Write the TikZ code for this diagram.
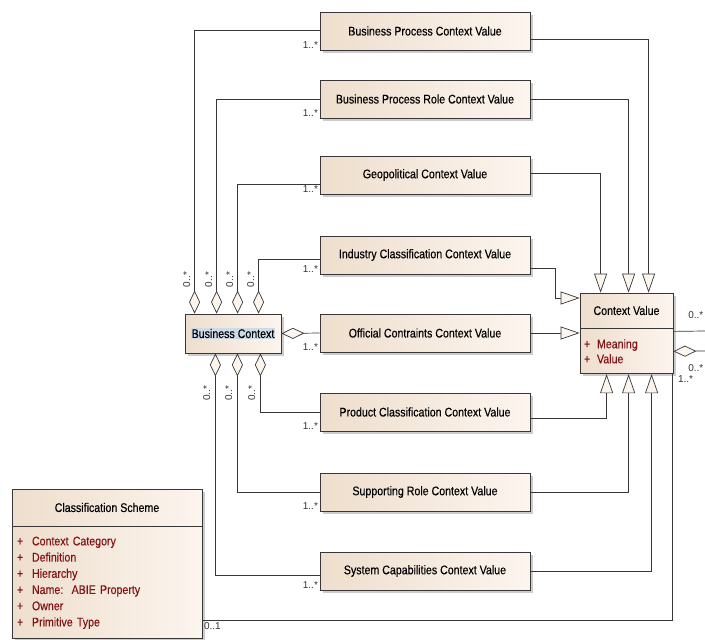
\documentclass[tikz,border=0pt]{standalone}
\usepackage{fontspec}
\setmainfont{Liberation Sans}
\newfontfamily\umlfont[FakeStretch=0.85, FakeBold=0.3]{Liberation Sans}
\usetikzlibrary{arrows.meta,positioning,calc,shadows}

\definecolor{boxL}{RGB}{238,222,205}
\definecolor{boxR}{RGB}{252,245,238}
\definecolor{edge}{RGB}{55,55,55}
\definecolor{attr}{RGB}{128,20,20}
\definecolor{sel}{RGB}{205,218,232}

\tikzset{
  cls/.style={draw=edge, line width=0.8pt, left color=boxL, right color=boxR,
    drop shadow={shadow xshift=2.5pt, shadow yshift=-2.5pt, opacity=0.4},
    font=\umlfont\fontsize{12.5}{13}\selectfont, inner sep=2pt},
  valbox/.style={cls, minimum width=210pt, minimum height=38pt},
  link/.style={draw=edge, line width=0.7pt},
  aggr/.style={link, {Diamond[length=23pt, width=11pt, fill=boxR]}-},
  gen/.style={link, -{Triangle[length=19pt, width=13pt, fill=boxR]}},
  mult/.style={font=\fontsize{10}{10}\selectfont, text=black!80, inner sep=1.5pt},
}

\begin{document}
\begin{tikzpicture}[x=1pt, y=-1pt]
\useasboundingbox (0,0) rectangle (705,640);

% context value kinds
\node[valbox] (bpcv) at (425,31) {Business Process Context Value};
\node[valbox] (bprcv) at (425,99) {Business Process Role Context Value};
\node[valbox] (geo) at (425,175) {Geopolitical Context Value};
\node[valbox] (ind) at (425,255) {Industry Classification Context Value};
\node[valbox] (off) at (425,333) {Official Contraints Context Value};
\node[valbox] (prod) at (425,412) {Product Classification Context Value};
\node[valbox] (supp) at (425,492) {Supporting Role Context Value};
\node[valbox] (sys) at (425,571) {System Capabilities Context Value};

\node[cls, minimum width=96pt, minimum height=39pt] (bc) at (233,333.5) {\fboxsep=1pt\colorbox{sel}{Business Context}};

\node[cls, minimum width=93pt, minimum height=35pt] (cv) at (626.5,310.5) {Context Value};
\node[cls, minimum width=93pt, minimum height=45pt, below=0pt of cv, align=left, text=attr,
  text width=85pt, inner xsep=4pt, font=\umlfont\fontsize{12.5}{15}\selectfont] (cvattr)
  {\makebox[13pt][l]{+}Meaning\\\makebox[13pt][l]{+}Value};

\node[cls, minimum width=190pt, minimum height=37pt] (cs) at (107,507.5) {Classification Scheme};
\node[cls, minimum width=190pt, minimum height=112pt, below=0pt of cs, align=left, text=attr,
  text width=180pt, inner xsep=5pt, font=\umlfont\fontsize{12.5}{16.2}\selectfont] (csattr)
  {\makebox[15pt][l]{+}Context Category\\
   \makebox[15pt][l]{+}Definition\\
   \makebox[15pt][l]{+}Hierarchy\\
   \makebox[15pt][l]{+}Name:\ \ ABIE Property\\
   \makebox[15pt][l]{+}Owner\\
   \makebox[15pt][l]{+}Primitive Type};

% aggregations
\draw[aggr] ([xshift=10pt]bc.north west) |- ([yshift=1pt]bpcv.west);
\draw[aggr] ([xshift=32pt]bc.north west) |- (bprcv.west);
\draw[aggr] ([xshift=53pt]bc.north west) |- ([yshift=-9pt]geo.west);
\draw[aggr] ([xshift=74pt]bc.north west) |- ([yshift=-4pt]ind.west);
\draw[aggr] (bc.east) -- (off.west);
\draw[aggr] ([xshift=-21pt]bc.south east) |- (prod.west);
\draw[aggr] ([xshift=-44pt]bc.south east) |- (supp.west);
\draw[aggr] ([xshift=-66pt]bc.south east) |- ([yshift=-4pt]sys.west);

\foreach \dx in {2,24,45,66}
  \node[mult, rotate=90] (mt\dx) at ([xshift=\dx pt, yshift=34pt]bc.north west) {0..*};
\foreach \dx in {22,44,67}
  \node[mult, rotate=90] (mb\dx) at ([xshift=\dx pt, yshift=-40pt]bc.south west) {0..*};
\foreach \b in {bpcv,bprcv,geo,ind,off,prod,supp,sys}
  \node[mult, anchor=south east] (m\b) at (\b.south west) {1..*};

% generalizations
\draw[gen] ([yshift=-8pt]bpcv.east) -| ([xshift=69pt]cv.north west);
\draw[gen] (bprcv.east) -| ([xshift=49pt]cv.north west);
\draw[gen] ([yshift=2pt]geo.east) -| ([xshift=21pt]cv.north west);
\draw[gen] ([yshift=-13pt]ind.east) -- ++(25,0) |- ([yshift=12.5pt]cv.west);
\draw[gen] (off.east) -- (off.east -| cv.west);
\draw[gen] ([yshift=-6pt]prod.east) -| ([xshift=27pt]cvattr.south west);
\draw[gen] (supp.east) -| ([xshift=49pt]cvattr.south west);
\draw[gen] (sys.east) -| ([xshift=72pt]cvattr.south west);

% scheme and outgoing ends
\draw[link] ([yshift=-38pt]csattr.east) -| ([xshift=-1pt]cvattr.south east);
\node[mult, anchor=north west] (mcs) at ([yshift=-38pt]csattr.east) {0..1};
\node[mult, anchor=north west] (mcv) at ([xshift=3pt]cvattr.south east) {1..*};

\coordinate (out1) at (705,331);
\coordinate (out2) at (705,351);
\draw[link] ([yshift=-3pt]cv.south east) -- (out1);
\draw[aggr] (cvattr.east) -- (out2);
\node[mult, anchor=south east] (mo1) at ([yshift=11pt]out1) {0..*};
\node[mult, anchor=north east] (mo2) at ([yshift=-12pt]out2) {0..*};
\end{tikzpicture}
\end{document}
